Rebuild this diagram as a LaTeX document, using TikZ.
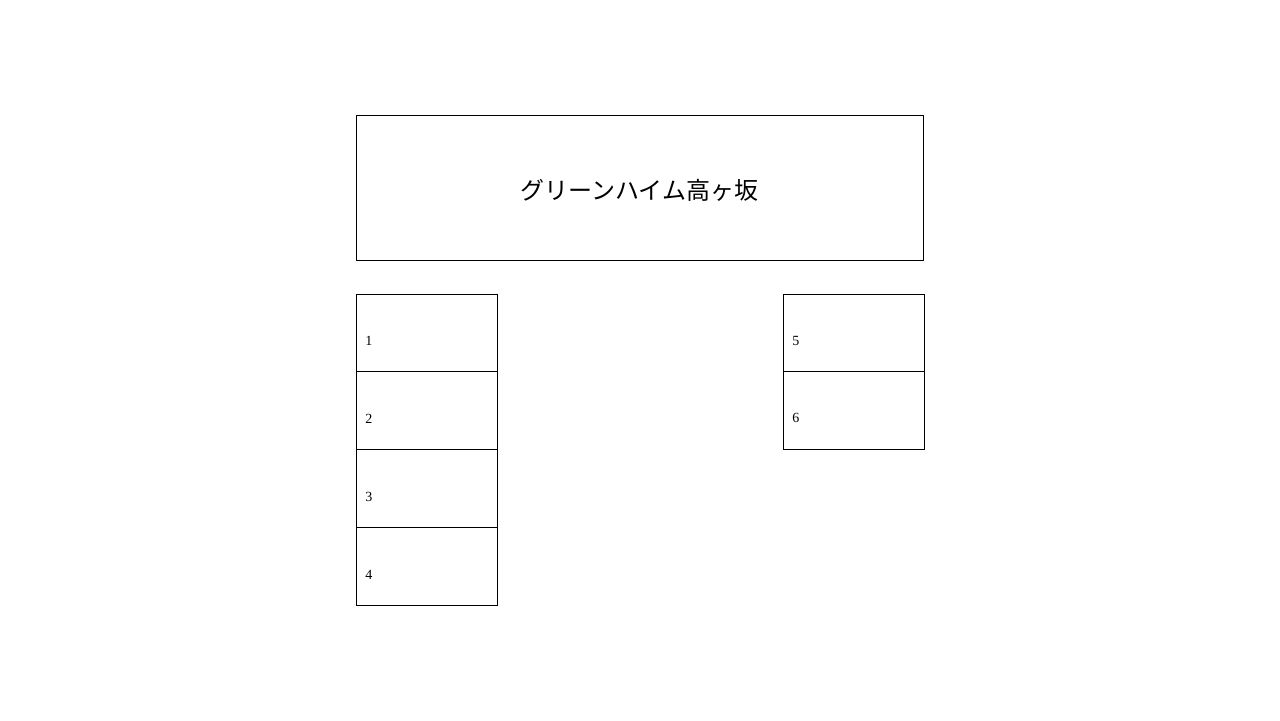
\documentclass[tikz,border=0pt]{standalone}
\usepackage{fontspec}
\setmainfont{Liberation Serif}
\newfontfamily\jpfont{Noto Sans CJK JP}
\usetikzlibrary{positioning}
\tikzset{
    titlebox/.style = {rectangle, draw=black, line width=0.5pt, minimum width=283.5pt, minimum height=72.5pt, inner sep=0pt, outer sep=0pt},
    titletext/.style = {inner sep=0pt, font=\jpfont\fontsize{12}{14}\selectfont},
    roombox/.style = {rectangle, draw=black, line width=0.5pt, minimum width=70.5pt, minimum height=38.9pt, inner sep=0pt, outer sep=0pt},
    roomnum/.style = {anchor=west, inner sep=0pt, font=\fontsize{7}{8}\selectfont}
}
\begin{document}
\begin{tikzpicture}[x=0.5pt, y=-0.5pt]
  \useasboundingbox (0,0) rectangle (1280,720);
  \node[titlebox] (title) at (639.5,187.5) {};
  \node[titletext] (titlename) at ([yshift=-1.5pt]title.center) {グリーンハイム高ヶ坂};
  % left block
  \node[roombox] (r1) at (426.5,333) {};
  \node[roombox, below=0pt of r1] (r2) {};
  \node[roombox, below=0pt of r2] (r3) {};
  \node[roombox, below=0pt of r3] (r4) {};
  % right block
  \node[roombox] (r5) at (853.5,333) {};
  \node[roombox, below=0pt of r5] (r6) {};
  % numbers
  \node[roomnum] (n1) at ([xshift=4.5pt,yshift=-23.5pt]r1.north west) {1};
  \node[roomnum] (n2) at ([xshift=4.5pt,yshift=-23.5pt]r2.north west) {2};
  \node[roomnum] (n3) at ([xshift=4.5pt,yshift=-23.5pt]r3.north west) {3};
  \node[roomnum] (n4) at ([xshift=4.5pt,yshift=-23.5pt]r4.north west) {4};
  \node[roomnum] (n5) at ([xshift=4.5pt,yshift=-23.5pt]r5.north west) {5};
  \node[roomnum] (n6) at ([xshift=4.5pt,yshift=-23pt]r6.north west) {6};
\end{tikzpicture}
\end{document}
